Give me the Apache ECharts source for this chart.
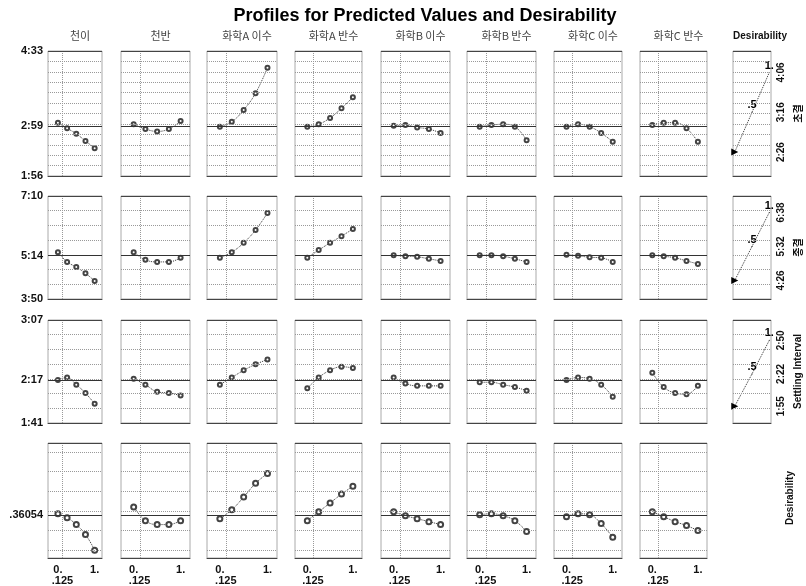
<!DOCTYPE html>
<html>
<head>
<meta charset="utf-8">
<script src="https://cdn.jsdelivr.net/npm/echarts@6/dist/echarts.min.js"></script>
<style>
  html, body { margin: 0; padding: 0; background: #fff; }
  #main { width: 806px; height: 586px; }
</style>
</head>
<body>
<div id="main"></div>
<script>
// factor columns and the response rows
const factors = ['천이', '천반', '화학A 이수', '화학A 반수', '화학B 이수', '화학B 반수', '화학C 이수', '화학C 반수'];
const responses = ['초결', '종결', 'Settling Interval', 'Desirability'];
const xLevels = [0, 0.25, 0.5, 0.75, 1];
const currentX = 0.125;

// predicted values per factor column (times in minutes, h:mm)
const initialSet = [
  [183, 176, 169, 160, 151],
  [181, 175, 172, 175, 185],
  [178, 184, 199, 220, 252],
  [178, 181, 189, 201, 215],
  [179, 180, 177, 175, 170],
  [178, 180, 181, 178, 161],
  [178, 181, 178, 170, 159],
  [180, 183, 183, 176, 159]
];
const finalSet = [
  [321, 302, 292, 280, 265],
  [321, 306, 302, 302, 310],
  [310, 321, 339, 364, 397],
  [310, 325, 339, 352, 366],
  [315, 313, 312, 308, 304],
  [315, 315, 313, 308, 302],
  [316, 314, 311, 310, 302],
  [315, 313, 310, 304, 298]
];
const settlingInterval = [
  [137, 139, 133, 126, 117],
  [138, 133, 127, 126, 124],
  [133, 139, 145, 150, 154],
  [130, 139, 145, 148, 147],
  [139, 134, 132, 132, 132],
  [135, 135, 133, 131, 128],
  [137, 139, 138, 133, 123],
  [143, 131, 126, 125, 132]
];
const desirability = [
  [0.37, 0.33, 0.26, 0.16, 0.0],
  [0.44, 0.30, 0.26, 0.26, 0.30],
  [0.32, 0.41, 0.54, 0.68, 0.78],
  [0.30, 0.39, 0.48, 0.57, 0.65],
  [0.39, 0.35, 0.32, 0.29, 0.26],
  [0.36, 0.37, 0.35, 0.30, 0.19],
  [0.34, 0.37, 0.36, 0.27, 0.13],
  [0.39, 0.34, 0.29, 0.25, 0.20]
];
const currentValues = [179, 314, 137, 0.36054];
const yRanges = [[116, 273], [230, 430], [101, 187], [-0.08, 1.09]];

// desirability functions (response value at desirability 0, .5, 1)
const desirabilityLevels = [0, 0.5, 1];
const desirabilityTargets = [[146, 196, 246], [266, 332, 398], [115, 142, 170]];
const desirabilityTickText = ['', '.5', '1.'];
const desirabilityGrid = [0, 0.2, 0.4, 0.6, 0.8, 1];

const rowData = [initialSet, finalSet, settlingInterval, desirability];

// layout
const colLeft = [48, 121, 207, 295, 381, 467, 554, 640];
const colWidth = [54, 69, 70, 67, 69, 69, 68, 67];
const rowTop = [51, 196, 320, 443];
const rowHeight = [125, 103, 103, 117];
const rowSplits = [12, 7, 7, 0];
const desLeft = 733, desWidth = 38;
const xMin = -0.27, xMax = 1.2;

const labelFont = 'Liberation Sans';

function fmtTime(v) {
  const m = Math.round(v);
  const h = Math.floor(m / 60), s = m % 60;
  return h + ':' + (s < 10 ? '0' : '') + s;
}
function fmtY(r, v) {
  return r === 3 ? v.toFixed(5).replace(/^0/, '') : fmtTime(v);
}
function gridLines(r) {
  if (r === 3) return desirabilityGrid;
  const [lo, hi] = yRanges[r];
  const out = [];
  for (let k = 1; k < rowSplits[r]; k++) out.push(lo + k * (hi - lo) / rowSplits[r]);
  return out;
}

const grids = [], xAxes = [], yAxes = [], series = [];
const titles = [{
  text: 'Profiles for Predicted Values and Desirability',
  left: 420, top: 2, textAlign: 'center',
  textStyle: { fontFamily: labelFont, fontSize: 18, fontWeight: 'bold', color: '#000' }
}];

function addGrid(left, top, width, height) {
  grids.push({ left, top, width, height, show: true, borderColor: '#aaa', borderWidth: 1 });
  return grids.length - 1;
}

const dotted = { color: '#999', width: 1, type: 'dotted' };
const edge = { color: '#444', width: 1, type: 'solid' };

for (let c = 0; c < factors.length; c++) {
  titles.push({
    text: factors[c], left: colLeft[c] + colWidth[c] / 2, top: 25, textAlign: 'center',
    textStyle: { fontFamily: 'Noto Sans CJK KR', fontSize: 11, fontWeight: 'normal', color: '#444' }
  });
  for (let r = 0; r < 4; r++) {
    const [lo, hi] = yRanges[r];
    const gi = addGrid(colLeft[c], rowTop[r], colWidth[c], rowHeight[r]);
    const xi = xAxes.length;
    xAxes.push({
      gridIndex: gi, type: 'value', min: xMin, max: xMax, position: 'bottom',
      axisLine: { show: true, onZero: false, lineStyle: edge },
      axisTick: { show: false }, splitLine: { show: false },
      axisLabel: r === 3 ? {
        customValues: [0, 1], formatter: v => (v === 0 ? '0.' : '1.'),
        fontFamily: labelFont, fontWeight: 'bold', fontSize: 11, color: '#111', margin: 6
      } : { show: false }
    });
    if (r === 3) {
      xAxes.push({
        gridIndex: gi, type: 'value', min: xMin, max: xMax, position: 'bottom', offset: 11,
        axisLine: { show: false }, axisTick: { show: false }, splitLine: { show: false },
        axisLabel: {
          customValues: [currentX], formatter: v => v.toString().replace(/^0/, ''),
          fontFamily: labelFont, fontWeight: 'bold', fontSize: 11, color: '#111', margin: 6
        }
      });
    }
    const yi = yAxes.length;
    yAxes.push({
      gridIndex: gi, type: 'value', min: lo, max: hi,
      axisLine: { show: false }, axisTick: { show: false }, splitLine: { show: false },
      axisLabel: c === 0 ? {
        customValues: r === 3 ? [currentValues[r]] : [lo, currentValues[r], hi],
        formatter: v => fmtY(r, v),
        fontFamily: labelFont, fontWeight: 'bold', fontSize: 11, color: '#111', margin: 5
      } : { show: false }
    });
    const marks = gridLines(r).map(v => ({ yAxis: v, lineStyle: dotted }));
    marks.push({ xAxis: currentX, lineStyle: dotted });
    marks.push({ yAxis: hi, lineStyle: edge });
    marks.push({ yAxis: currentValues[r], lineStyle: { color: '#333', width: 1.2, type: 'solid' } });
    series.push({
      type: 'line', xAxisIndex: xi, yAxisIndex: yi,
      data: xLevels.map((x, i) => [x, rowData[r][c][i]]),
      smooth: 0.4,
      symbol: 'emptyCircle', symbolSize: r === 3 ? 5 : 4,
      lineStyle: { color: '#333', width: 1, type: 'dotted' },
      itemStyle: { color: '#444', borderWidth: 1 },
      markLine: { silent: true, symbol: 'none', label: { show: false }, data: marks }
    });
  }
}

// desirability column
titles.push({
  text: 'Desirability', left: desLeft + 22, top: 26, textAlign: 'center',
  textStyle: { fontFamily: labelFont, fontSize: 10, fontWeight: 'bold', color: '#111' }
});
for (let r = 0; r < 3; r++) {
  const [lo, hi] = yRanges[r];
  const gi = addGrid(desLeft, rowTop[r], desWidth, rowHeight[r]);
  const xi = xAxes.length;
  xAxes.push({
    gridIndex: gi, type: 'value', min: -0.05, max: 1.05,
    axisLine: { show: true, onZero: false, lineStyle: edge },
    axisTick: { show: false }, splitLine: { show: false }, axisLabel: { show: false }
  });
  const yi = yAxes.length;
  yAxes.push({
    gridIndex: gi, type: 'value', min: lo, max: hi, position: 'right',
    axisLine: { show: false }, axisTick: { show: false }, splitLine: { show: false },
    axisLabel: {
      customValues: desirabilityTargets[r], formatter: v => fmtTime(v), rotate: 90,
      fontFamily: labelFont, fontWeight: 'bold', fontSize: 10, color: '#111', margin: 5
    },
    name: responses[r], nameLocation: 'middle', nameRotate: 90, nameGap: 22,
    nameTextStyle: { fontFamily: r === 2 ? labelFont : 'Noto Sans CJK KR', fontWeight: 'bold', fontSize: 10, color: '#111' }
  });
  const marks = gridLines(r).map(v => ({ yAxis: v, lineStyle: dotted }));
  marks.push({ yAxis: hi, lineStyle: edge });
  series.push({
    type: 'line', xAxisIndex: xi, yAxisIndex: yi,
    data: desirabilityLevels.map((d, i) => ({
      value: [d, desirabilityTargets[r][i]],
      symbol: i === 0 ? 'triangle' : 'circle', symbolRotate: i === 0 ? -90 : 0,
      symbolSize: i === 0 ? 7 : 1,
      label: {
        show: i > 0, formatter: desirabilityTickText[i], position: 'top', distance: 1,
        fontFamily: labelFont, fontWeight: 'bold', fontSize: 11, color: '#000'
      }
    })),
    lineStyle: { color: '#333', width: 1, type: 'dotted' },
    itemStyle: { color: '#000' },
    markLine: { silent: true, symbol: 'none', label: { show: false }, data: marks }
  });
}

const chart = echarts.init(document.getElementById('main'), null, { renderer: 'canvas' });
chart.setOption({
  backgroundColor: '#fff',
  animation: false,
  textStyle: { fontFamily: labelFont },
  title: titles,
  grid: grids,
  xAxis: xAxes,
  yAxis: yAxes,
  series: series,
  graphic: [{
    type: 'text', x: 790, y: 498, rotation: Math.PI / 2,
    style: {
      text: responses[3], fontFamily: labelFont, fontWeight: 'bold', fontSize: 10,
      fill: '#111', align: 'center', verticalAlign: 'middle'
    }
  }]
});
</script>
</body>
</html>
